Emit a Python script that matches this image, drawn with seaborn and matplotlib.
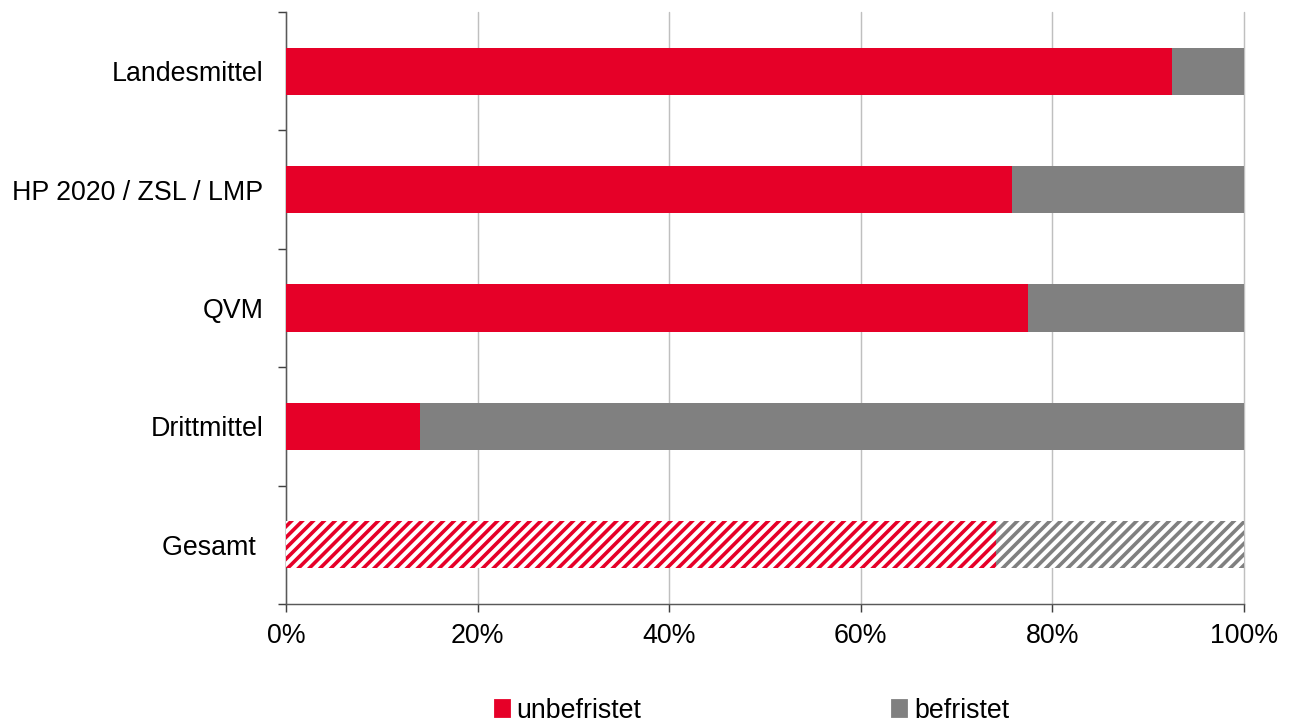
import numpy as np
import pandas as pd
import matplotlib
matplotlib.use("Agg")
import matplotlib.pyplot as plt
import seaborn as sns

# Data (share of staff in %)
categories = ["Landesmittel", "HP 2020 / ZSL / LMP", "QVM", "Drittmittel", "Gesamt "]
unbefristet = [92.5, 75.8, 77.5, 14.0, 74.1]
befristet = [7.5, 24.2, 22.5, 86.0, 25.9]
x_ticks = [0, 20, 40, 60, 80, 100]

red = "#E60028"
gray = "#808080"

df = pd.DataFrame({"Kategorie": categories,
                   "unbefristet": unbefristet,
                   "befristet": befristet})
df["gesamt"] = df["unbefristet"] + df["befristet"]

sns.set_style("white")
plt.rcParams["font.family"] = ["Liberation Sans", "DejaVu Sans"]
plt.rcParams["hatch.linewidth"] = 2.0
plt.rcParams["xtick.bottom"] = True
plt.rcParams["ytick.left"] = True
plt.rcParams["text.color"] = "black"
plt.rcParams["xtick.labelcolor"] = "black"
plt.rcParams["ytick.labelcolor"] = "black"

dpi = 130
fig = plt.figure(figsize=(1294 / dpi, 727 / dpi), dpi=dpi)
ax = fig.add_axes([286 / 1294, 1 - 604 / 727, 958 / 1294, 592 / 727])

# stacked bars: full length in gray, unbefristet in red on top
sns.barplot(data=df, x="gesamt", y="Kategorie", color=gray, width=0.4,
            saturation=1, linewidth=0, ax=ax, zorder=3)
sns.barplot(data=df, x="unbefristet", y="Kategorie", color=red, width=0.4,
            saturation=1, linewidth=0, ax=ax, zorder=4)

# hatched "Gesamt" bar
n = len(categories)
for p, col in [(ax.patches[n - 1], gray), (ax.patches[2 * n - 1], red)]:
    p.set_facecolor("white")
    p.set_edgecolor(col)
    p.set_hatch("////")
    p.set_linewidth(0)

ax.set_xlim(0, 100)
ax.set_ylim(n - 0.5, -0.5)
ax.set_xticks(x_ticks)
ax.set_xticklabels([f"{v}%" for v in x_ticks])
ax.set_xlabel("")
ax.set_ylabel("")

ax.set_yticks(np.arange(-0.5, n, 1.0), minor=True)
ax.tick_params(axis="y", which="major", left=False, length=0, pad=12.5,
               labelsize=14.8, labelcolor="black")
ax.tick_params(axis="y", which="minor", left=True, length=4.4, width=0.8,
               color="#404040", direction="out")
ax.tick_params(axis="x", which="major", bottom=True, length=4.4, width=0.8,
               color="#404040", direction="out", pad=6, labelsize=14.8,
               labelcolor="black")

ax.grid(axis="x", color="#BFBFBF", linewidth=0.8, zorder=0)
for gl in ax.xaxis.get_gridlines():
    gl.set_clip_on(False)
ax.set_axisbelow(True)
for s in ["top", "right"]:
    ax.spines[s].set_visible(False)
for s in ["left", "bottom"]:
    ax.spines[s].set_color("#595959")
    ax.spines[s].set_linewidth(0.8)

handles = [plt.Rectangle((0, 0), 1, 1, color=red),
           plt.Rectangle((0, 0), 1, 1, color=gray)]
fig.legend(handles, ["unbefristet", "befristet"], loc="center",
           bbox_to_anchor=(752 / 1294, 1 - 711 / 727), ncol=2, frameon=False,
           fontsize=14.8, handlelength=0.55, handleheight=0.55,
           handletextpad=0.25, columnspacing=9.4)

fig.savefig("out.png", dpi=dpi)
